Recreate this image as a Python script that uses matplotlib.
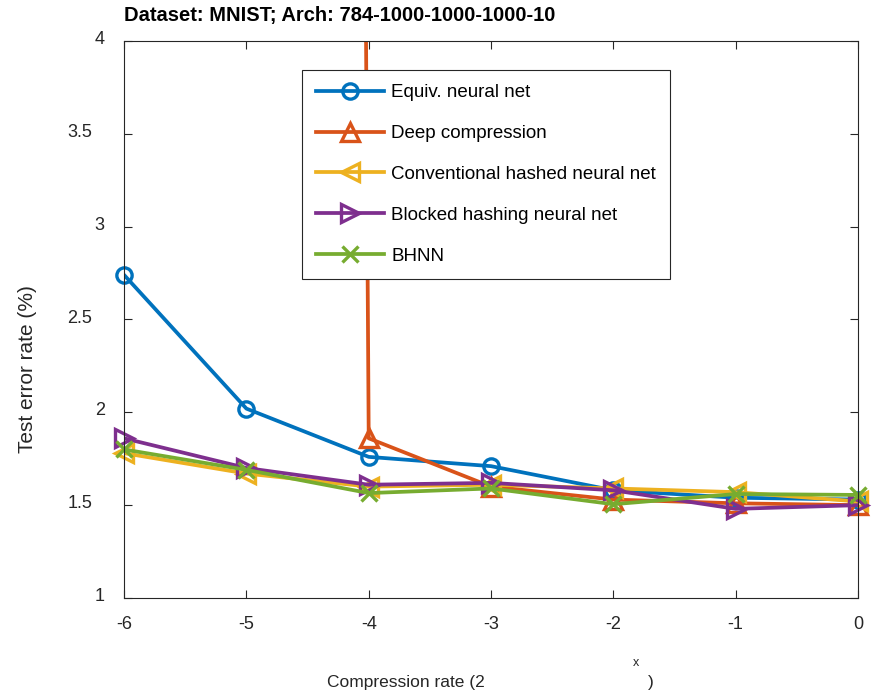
import matplotlib
matplotlib.use("Agg")
import numpy as np
import matplotlib.pyplot as plt
from matplotlib.lines import Line2D

plt.rcParams['font.family'] = ['Liberation Sans', 'DejaVu Sans']

# compression exponent (2^x)
x_vals = [-6, -5, -4, -3, -2, -1, 0]

equiv_nn = [2.74, 2.02, 1.76, 1.71, 1.58, 1.54, 1.53]
deep_comp = [100.0, 100.0, 1.86, 1.60, 1.53, 1.51, 1.50]
conv_hashed = [1.78, 1.67, 1.60, 1.61, 1.59, 1.57, 1.52]
blocked_hash = [1.86, 1.70, 1.61, 1.62, 1.58, 1.48, 1.50]
bhnn = [1.80, 1.69, 1.565, 1.59, 1.505, 1.56, 1.555]

series_labels = ["Equiv. neural net", "Deep compression",
                 "Conventional hashed neural net", "Blocked hashing neural net",
                 "BHNN"]
y_ticks = [1, 1.5, 2, 2.5, 3, 3.5, 4]
y_tick_labels = ["1", "1.5", "2", "2.5", "3", "3.5", "4"]

colors = ['#0072BD', '#D95319', '#EDB120', '#7E2F8E', '#77AC30']
markers = ['o', '^', '<', '>', 'x']
msizes = [11, 13, 13, 13, 11]

fig = plt.figure(figsize=(8.8, 6.95), dpi=100)
ax = fig.add_axes([0.141, 0.1396, 0.834, 0.8014])
ax.set_xlim(-6, 0)
ax.set_ylim(1, 4)

handles = []
for ys, lab, c, m, ms in zip([equiv_nn, deep_comp, conv_hashed, blocked_hash, bhnn],
                             series_labels, colors, markers, msizes):
    ys = np.array(ys)
    ax.plot(x_vals, ys, color=c, linewidth=2.7)
    # markers are not clipped at the box edge (only those inside the y range)
    vis = np.ma.masked_where(ys > 4, ys)
    ax.plot(x_vals, vis, linestyle='none', marker=m, markersize=ms,
            markeredgewidth=2.4, markerfacecolor='none', color=c, clip_on=False)
    handles.append(Line2D([], [], color=c, linewidth=2.7, marker=m,
                          markersize=ms, markeredgewidth=2.4,
                          markerfacecolor='none', label=lab))

ax.set_xticks(x_vals)
ax.set_xticklabels([str(v) for v in x_vals])
ax.set_yticks(y_ticks)
ax.set_yticklabels([])
ax.tick_params(direction='in', top=True, right=True, length=6, width=0.8,
               labelsize=13, colors='#262626')
ax.tick_params(axis='x', pad=13)
for s in ax.spines.values():
    s.set_linewidth(0.8)
    s.set_color('#262626')

# y tick labels: whole numbers sit closer to the axis than the halves
for v, lab in zip(y_ticks, y_tick_labels):
    off = -14 if '.' not in lab else -23
    ax.annotate(lab, xy=(0, v), xycoords=('axes fraction', 'data'),
                xytext=(off, 1), textcoords='offset points',
                ha='right', va='center', fontsize=13, color='#262626')

leg = ax.legend(handles=handles, loc='upper left', bbox_to_anchor=(0.2425, 0.948),
                fontsize=13.5, frameon=True, fancybox=False, edgecolor='#262626',
                handlelength=3.6, labelspacing=1.27, borderpad=0.75,
                handletextpad=0.4, borderaxespad=0, framealpha=1)
leg.get_frame().set_linewidth(0.8)

fig.text(0.141, 1 - 15 / 695, "Dataset: MNIST; Arch: 784-1000-1000-1000-10",
         fontsize=14.5, fontweight='bold', ha='left', va='center')

fig.text(28 / 880, 1 - 369 / 695, "Test error rate (%)", rotation=90,
         fontsize=15, ha='center', va='center', color='#262626')

# broken-looking label as in the reference
fig.text(406 / 880, 1 - 682 / 695, "Compression rate (2", fontsize=12.5,
         ha='center', va='center', color='#262626')
fig.text(636 / 880, 1 - 663 / 695, "x", fontsize=9, ha='center', va='center',
         color='#262626')
fig.text(651 / 880, 1 - 683 / 695, ")", fontsize=12.5, ha='center', va='center',
         color='#262626')

fig.savefig("out.png", dpi=100)
